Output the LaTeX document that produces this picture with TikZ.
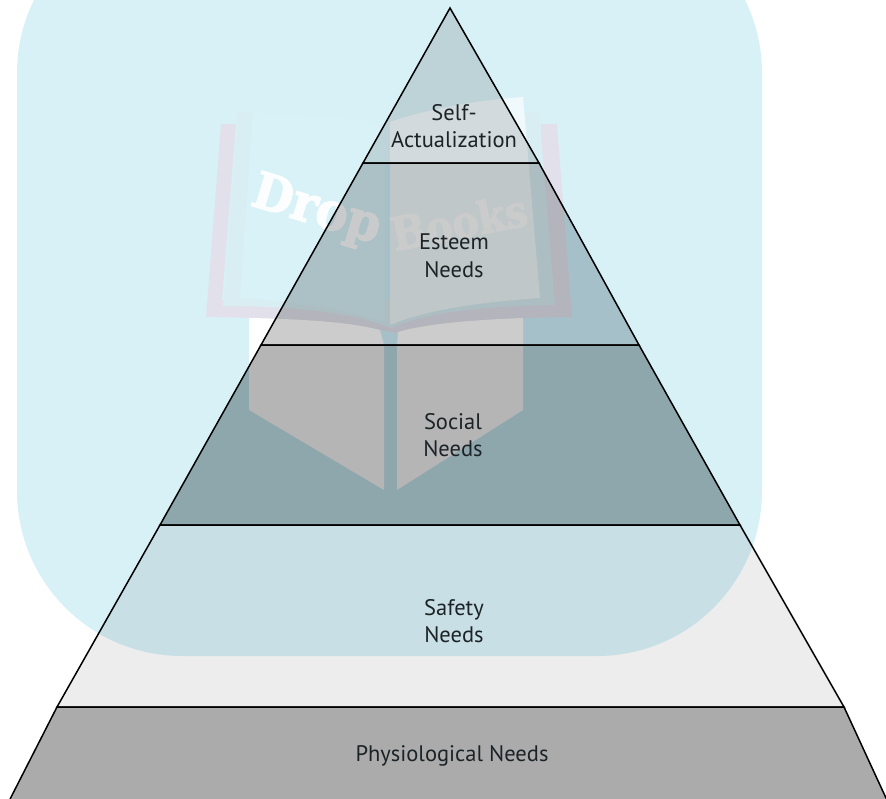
\documentclass[tikz,border=0pt]{standalone}
\usepackage{fontspec}
\setmainfont{PT Sans}
\newfontfamily\wmfont[BoldFeatures={FakeBold=2.5}]{DejaVu Serif}
\definecolor{wmblue}{HTML}{D8F1F7}
\definecolor{wmpurple}{HTML}{E2E1EB}
\definecolor{wmteal}{HTML}{D8EEF3}
\definecolor{wmpage}{HTML}{D8F2F8}
\definecolor{wmpageb}{HTML}{F0F9FC}
\definecolor{socialunder}{HTML}{C9ECF5}
\definecolor{esteemunder}{HTML}{CFF1FB}
\definecolor{labelink}{HTML}{1C2326}
\tikzset{
  layer/.style={draw=black,line width=1.5pt,line join=miter,fill opacity=#1,fill=black},
  lbl/.style={font=\fontsize{22.5}{27.5}\selectfont,text=labelink,align=center,inner sep=0pt},
  wml/.style={font=\wmfont\bfseries\fontsize{50}{50}\selectfont,text=white,text opacity=.9,inner sep=0pt},
}
\begin{document}
\begin{tikzpicture}[x=1pt,y=-1pt]
\useasboundingbox (0,0) rectangle (886,798);
\clip (0,0) rectangle (886,798);
% pyramid corner points
\coordinate (apex) at (450,8);
\coordinate (l1) at (363,163); \coordinate (r1) at (539,163);
\coordinate (l2) at (261,345); \coordinate (r2) at (639,345);
\coordinate (l3) at (160,525); \coordinate (r3) at (740,525);
\coordinate (l4) at (57,707);  \coordinate (r4) at (844,707);
\coordinate (l5) at (5.5,808); \coordinate (r5) at (890.6,808);
% watermark panel
\fill[wmblue,rounded corners=165pt] (17,-92) rectangle (762,656);
\fill[socialunder] (l2) -- (r2) -- (r3) -- (l3) -- cycle;
\fill[esteemunder] (l1) -- (r1) -- (r2) -- (l2) -- cycle;
% book
\fill[wmpurple] (221,124) -- (236,124) -- (222,300) -- (540,300) -- (541,124) -- (557,124) -- (572,317)
  .. controls (490,318) and (420,325) .. (397,333) -- (380,330)
  .. controls (340,322) and (280,318) .. (206,317) -- cycle;
\fill[wmteal] (238,112) -- (253,112) -- (240,298) -- (540,298) -- (525,112) -- (539,112) -- (555,305)
  .. controls (480,306) and (420,314) .. (392,328) -- (385,326)
  .. controls (350,312) and (290,306) .. (223,306) -- cycle;
\fill[wmpage] (253,112) .. controls (300,118) and (350,112) .. (385,128) -- (385,322)
  .. controls (350,310) and (290,300) .. (240,298) -- cycle;
\fill[wmpageb] (390,122) .. controls (430,108) and (480,100) .. (523,97) -- (540,298)
  .. controls (480,302) and (425,310) .. (390,325) -- cycle;
\fill[white] (249,318) .. controls (300,319) and (350,322) .. (380,330) -- (384,345) -- (384,490) -- (249,410) -- cycle;
\fill[white] (523,318) .. controls (470,320) and (425,324) .. (398,332) -- (397,345) -- (397,490) -- (523,410) -- cycle;
% wordmark
\node[wml,rotate=-17] (drop) at (316,212) {\scalebox{.93}[1]{D{\fontsize{52}{52}\selectfont rop}}};
\node[wml,rotate=11] (books) at (459,222) {\scalebox{.9}[1]{{\fontsize{46}{46}\selectfont B}{\fontsize{44}{44}\selectfont ooks}}};
% pyramid layers
\path[layer=.33] (l4) -- (r4) -- (r5) -- (l5) -- cycle;
\path[layer=.07] (l3) -- (r3) -- (r4) -- (l4) -- cycle;
\path[layer=.29] (l2) -- (r2) -- (r3) -- (l3) -- cycle;
\path[layer=.20] (l1) -- (r1) -- (r2) -- (l2) -- cycle;
\path[layer=.12] (apex) -- (r1) -- (l1) -- cycle;
% labels
\node[lbl] (self) at (454,126) {Self-\\Actualization};
\node[lbl] (esteem) at (454,256) {Esteem\\Needs};
\node[lbl] (social) at (453,435) {Social\\Needs};
\node[lbl] (safety) at (454,621) {Safety\\Needs};
\node[lbl] (physio) at (452,756) {Physiological Needs};
\end{tikzpicture}
\end{document}
